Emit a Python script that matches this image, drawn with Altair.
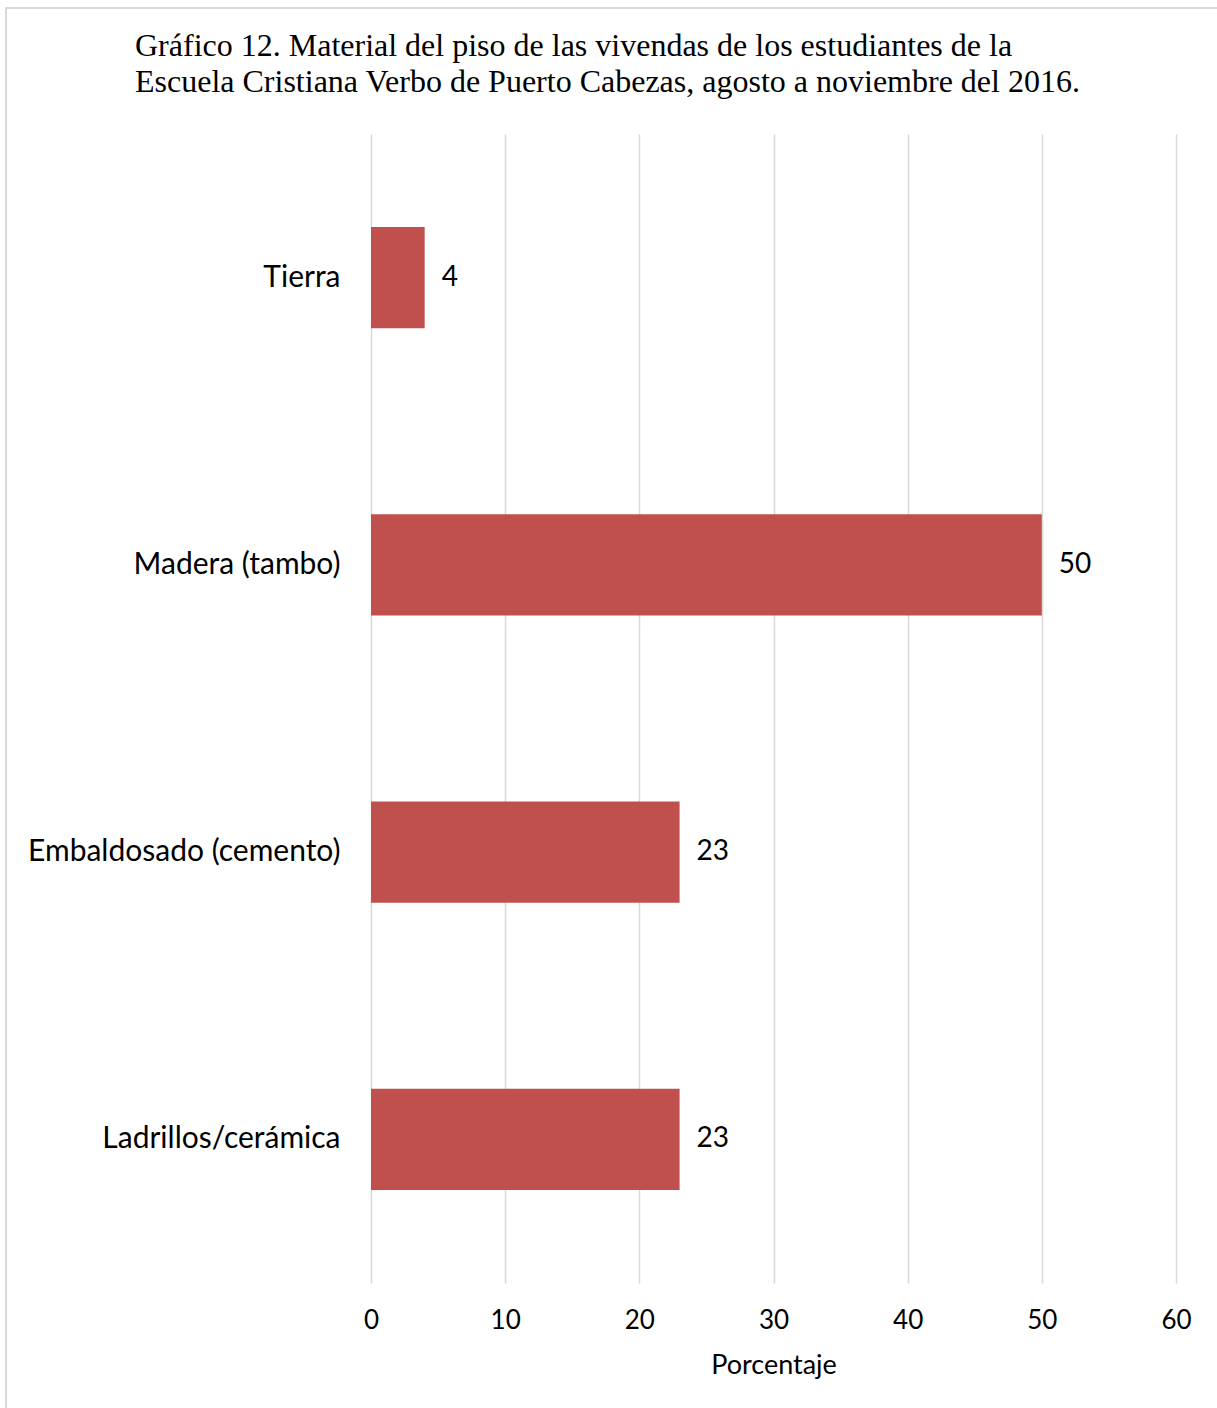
import altair as alt
import pandas as pd

categories = ["Tierra", "Madera (tambo)", "Embaldosado (cemento)", "Ladrillos/cerámica"]
values = [4, 50, 23, 23]
title_lines = [
    "Gráfico 12. Material del piso de las vivendas de los estudiantes de la",
    "Escuela Cristiana Verbo de Puerto Cabezas, agosto a noviembre del 2016.",
]

df = pd.DataFrame({"Material": categories, "Porcentaje": values})

LABEL_FONT = "Lato"
BAR_COLOR = "#C0504D"
GRID = "#d9d9d9"

x_axis = alt.Axis(
    values=[0, 10, 20, 30, 40, 50, 60],
    title="Porcentaje",
    grid=True,
    gridColor=GRID,
    gridWidth=1.5,
    domain=False,
    ticks=False,
    labelFlush=False,
    labelFont=LABEL_FONT,
    labelFontSize=26,
    labelColor="#000000",
    labelPadding=24,
    titleFont=LABEL_FONT,
    titleFontSize=27,
    titleFontWeight="normal",
    titleColor="#000000",
    titlePadding=19,
)
y_axis = alt.Axis(
    title=None,
    domain=False,
    ticks=False,
    grid=False,
    labelFont=LABEL_FONT,
    labelFontSize=30,
    labelColor="#000000",
    labelPadding=31,
    labelLimit=400,
)

x_enc = alt.X("Porcentaje:Q", scale=alt.Scale(domain=[0, 60], nice=False), axis=x_axis)
y_enc = alt.Y(
    "Material:N",
    sort=categories,
    scale=alt.Scale(paddingInner=0.648, paddingOuter=0.324),
    axis=y_axis,
)

bars = alt.Chart(df).mark_bar(color=BAR_COLOR).encode(x=x_enc, y=y_enc)
labels = alt.Chart(df).mark_text(
    align="left", baseline="middle", dx=17, font=LABEL_FONT, fontSize=28, color="#000000"
).encode(x=x_enc, y=y_enc, text="Porcentaje:Q")

frame = alt.Chart(alt.Data(values=[{}])).mark_rect(
    fill=None, stroke=GRID, strokeWidth=2
).encode(
    x=alt.value(-365), x2=alt.value(900), y=alt.value(-126), y2=alt.value(1400)
)

chart = alt.layer(frame, bars, labels).properties(
    width=805,
    height=1149,
    padding={"left": 371, "top": 134, "right": 41, "bottom": 125},
    autosize=alt.AutoSizeParams(type="none"),
    view=alt.ViewBackground(stroke="transparent", strokeWidth=0),
    title=alt.TitleParams(
        text=title_lines,
        anchor="start",
        frame="group",
        dx=-236,
        offset=-117,
        baseline="alphabetic",
        font="Liberation Serif",
        fontSize=32,
        fontWeight="normal",
        lineHeight=36,
        color="#000000",
    ),
).configure_view(strokeWidth=0, stroke="transparent").configure_axis(
    domain=False
).configure(background="white")

chart.save("out.html", embed_options={"renderer": "svg", "actions": False})
